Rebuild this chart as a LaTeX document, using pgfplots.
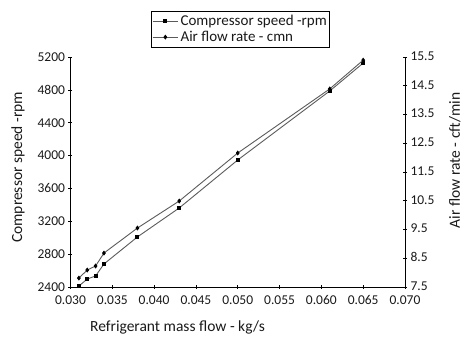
\documentclass[border=0pt]{standalone}
\usepackage{pgfplots}
\pgfplotsset{compat=1.18}
\usepackage{fontspec}
\setmainfont{Carlito}
\definecolor{linegray}{HTML}{5A5A5A}
\definecolor{txt}{HTML}{1A1A1A}
\begin{document}
\begin{tikzpicture}
\pgfplotsset{
  base/.style={
    scale only axis, width=334.5pt, height=230pt,
    xmin=0.03, xmax=0.07,
    /pgf/number format/assume math mode=true,
    tick label style={font=\fontsize{13.5}{15}\selectfont, text=txt},
    label style={font=\fontsize{15.5}{17}\selectfont, text=txt},
    axis line style={-, black, line width=0.6pt},
    tick style={black, line width=0.6pt},
    tick align=center, major tick length=4pt,
    legend image code/.code={
      \draw[mark repeat=2,mark phase=2,##1] plot coordinates {(0cm,0cm) (0.45cm,0cm) (0.9cm,0cm)};
    },
  }
}
\begin{axis}[base,
  axis x line*=bottom, axis y line*=left,
  ymin=2400, ymax=5200,
  ytick={2400,2800,3200,3600,4000,4400,4800,5200},
  yticklabel style={/pgf/number format/1000 sep={}},
  xtick={0.030,0.035,0.040,0.045,0.050,0.055,0.060,0.065,0.070},
  scaled x ticks=false,
  xticklabel style={yshift=-3pt, /pgf/number format/fixed, /pgf/number format/fixed zerofill, /pgf/number format/precision=3},
  xlabel={Refrigerant mass flow - kg/s},
  ylabel={Compressor speed -rpm},
  xlabel style={at={(axis description cs:0.32,-0.174)}, anchor=center},
  ylabel style={at={(axis description cs:-0.157,0.52)}, anchor=center},
]
\addplot[linegray, line width=0.9pt, mark=square*, mark size=1.5pt, mark options={black, solid}]
coordinates {
(0.031,2412) (0.032,2497) (0.033,2534) (0.034,2680) (0.038,3009)
(0.043,3362) (0.050,3946) (0.061,4786) (0.065,5126)
};
\end{axis}
\begin{axis}[base,
  axis x line=none, axis y line*=right,
  ymin=7.5, ymax=15.5,
  ytick={7.5,8.5,9.5,10.5,11.5,12.5,13.5,14.5,15.5},
  yticklabel style={yshift=1pt, /pgf/number format/fixed, /pgf/number format/fixed zerofill, /pgf/number format/precision=1},
  ylabel={Air flow rate - cft/min},
  ylabel style={at={(axis description cs:1.149,0.55)}, anchor=center},
  legend style={at={(0.508,1.2)}, anchor=north, draw=black, line width=0.6pt,
    font=\fontsize{15}{17}\selectfont, text=txt, row sep=0pt,
    inner xsep=1pt, inner ysep=2pt},
  legend cell align=left,
]
\addlegendimage{linegray, line width=0.9pt, mark=square*, mark size=1.5pt, mark options={black, solid}}
\addlegendentry{Compressor speed -rpm}
\addplot[linegray, line width=0.9pt, mark=diamond*, mark size=1.8pt, mark options={black, solid}]
coordinates {
(0.031,7.81) (0.032,8.09) (0.033,8.23) (0.034,8.68) (0.038,9.55)
(0.043,10.49) (0.050,12.16) (0.061,14.39) (0.065,15.39)
};
\addlegendentry{Air flow rate - cmn}
\end{axis}
\pgfresetboundingbox
\path ([xshift=-70.5pt,yshift=-51pt]current axis.south west) rectangle ([xshift=58pt,yshift=57pt]current axis.north east);
\end{tikzpicture}
\end{document}
